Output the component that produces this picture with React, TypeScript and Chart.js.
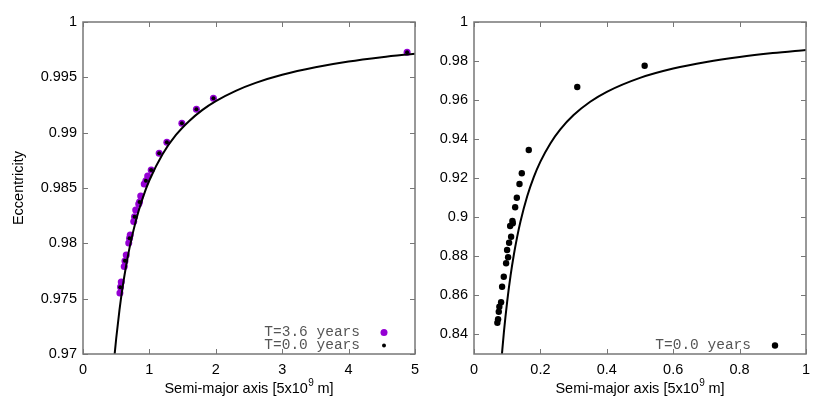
import React, { useEffect, useRef } from "react";
import { Chart, registerables } from "chart.js";
Chart.register(...registerables);

// ---------- data ----------
const LEFT_T36_A = [0.556, 0.565, 0.576, 0.621, 0.632, 0.651, 0.689, 0.701, 0.711, 0.764, 0.776, 0.794, 0.839, 0.851, 0.869, 0.922, 0.947, 0.974, 1.027, 1.147, 1.263, 1.489, 1.708, 1.964, 4.881];
const LEFT_T36_E = [0.97551, 0.97606, 0.97651, 0.97791, 0.9784, 0.97895, 0.98003, 0.98046, 0.98075, 0.98197, 0.98241, 0.98301, 0.98355, 0.98374, 0.98428, 0.98536, 0.98566, 0.98608, 0.98663, 0.98814, 0.98913, 0.99085, 0.99211, 0.99311, 0.99726];
const LEFT_T00_A = [0.561, 0.632, 0.701, 0.776, 0.851, 0.947, 1.027, 1.147, 1.263, 1.489, 1.708, 1.964, 4.881];
const LEFT_T00_E = [0.97603, 0.97843, 0.98046, 0.98241, 0.98374, 0.98566, 0.98663, 0.98814, 0.98913, 0.99085, 0.99211, 0.99311, 0.99726];
const LEFT_CURVE_A = [0.475, 0.5, 0.55, 0.6, 0.65, 0.7, 0.8, 0.9, 1.0, 1.2, 1.4, 1.6, 1.8, 2.0, 2.3, 2.6, 3.0, 3.5, 4.0, 4.5, 5.0];
const LEFT_CURVE_E = [0.96989, 0.9714, 0.974, 0.97617, 0.978, 0.97957, 0.98213, 0.98411, 0.9857, 0.98808, 0.98979, 0.99106, 0.99206, 0.99285, 0.99378, 0.9945, 0.99523, 0.99591, 0.99643, 0.99682, 0.99714];

const RIGHT_T00_A = [0.165, 0.144, 0.137, 0.129, 0.124, 0.1157, 0.1169, 0.1088, 0.1118, 0.1057, 0.0997, 0.1027, 0.0967, 0.0897, 0.0846, 0.0816, 0.0764, 0.0746, 0.0725, 0.0704, 0.311, 0.514];
const RIGHT_T00_E = [0.93446, 0.92253, 0.91705, 0.91004, 0.90512, 0.89811, 0.89693, 0.89555, 0.89007, 0.88699, 0.88326, 0.87952, 0.87645, 0.86959, 0.86447, 0.85648, 0.85422, 0.85167, 0.84777, 0.84603, 0.96672, 0.97762];
const RIGHT_CURVE_A = [0.083, 0.09, 0.1, 0.11, 0.12, 0.13, 0.14, 0.16, 0.18, 0.2, 0.23, 0.26, 0.3, 0.35, 0.4, 0.5, 0.6, 0.7, 0.8, 0.9, 1.0];
const RIGHT_CURVE_E = [0.82771, 0.84111, 0.857, 0.87, 0.88083, 0.89, 0.89786, 0.91063, 0.92056, 0.9285, 0.93783, 0.945, 0.95233, 0.95914, 0.96425, 0.9714, 0.97617, 0.97957, 0.98213, 0.98411, 0.9857];

const LEFT_X_TICKS = [0, 1, 2, 3, 4, 5];
const LEFT_Y_TICKS = [0.97, 0.975, 0.98, 0.985, 0.99, 0.995, 1];
const RIGHT_X_TICKS = [0, 0.2, 0.4, 0.6, 0.8, 1];
const RIGHT_Y_TICKS = [0.84, 0.86, 0.88, 0.9, 0.92, 0.94, 0.96, 0.98, 1];

const LABEL_T36 = "T=3.6 years";
const LABEL_T00 = "T=0.0 years";
const X_TITLE_MAIN = "Semi-major axis [5x10";
const X_TITLE_SUP = "9";
const X_TITLE_END = " m]";
const Y_TITLE = "Eccentricity";

// ---------- styling ----------
const FONT = "'Liberation Sans', Arial, Helvetica, sans-serif";
const MONO = "'Liberation Mono', 'Courier New', monospace";
const PURPLE = "#9400d3";
const FRAME = "#777777";

const zip = (a: number[], e: number[]) => a.map((v, i) => ({ x: v, y: e[i] }));
const fmt = (v: number) => String(Number(Number(v).toFixed(3)));

const gpFrame = {
  id: "gpframe",
  afterDraw(chart: any) {
    const o = chart.options.plugins.gpframe || {};
    const { ctx } = chart;
    const { left, right, top, bottom } = chart.chartArea;
    const xs = chart.scales.x;
    const ys = chart.scales.y;
    ctx.save();
    // ticks on all four sides
    ctx.strokeStyle = FRAME;
    ctx.lineWidth = 1;
    const L = 5;
    ctx.beginPath();
    xs.ticks.forEach((t: any) => {
      const px = Math.round(xs.getPixelForValue(t.value)) + 0.5;
      ctx.moveTo(px, bottom);
      ctx.lineTo(px, bottom - L);
      ctx.moveTo(px, top);
      ctx.lineTo(px, top + L);
    });
    ys.ticks.forEach((t: any) => {
      const py = Math.round(ys.getPixelForValue(t.value)) + 0.5;
      ctx.moveTo(left, py);
      ctx.lineTo(left + L, py);
      ctx.moveTo(right, py);
      ctx.lineTo(right - L, py);
    });
    ctx.stroke();
    // frame
    ctx.lineWidth = 1.5;
    ctx.strokeRect(left, top, right - left, bottom - top);

    // legend
    const entries = chart.data.datasets.filter((d: any) => d.label);
    const n = entries.length;
    entries.forEach((d: any, i: number) => {
      const rowY = bottom - 8.5 - (n - 1 - i) * 13;
      ctx.font = `14.5px ${MONO}`;
      ctx.fillStyle = "#555555";
      ctx.textAlign = "right";
      ctx.textBaseline = "middle";
      ctx.fillText(d.label, right - 55, rowY);
      ctx.beginPath();
      ctx.fillStyle = d.backgroundColor;
      ctx.arc(right - 31, rowY, d.pointRadius, 0, Math.PI * 2);
      ctx.fill();
    });

    // x title with superscript
    ctx.fillStyle = "#000000";
    ctx.textBaseline = "alphabetic";
    ctx.textAlign = "left";
    const mainFont = `14.5px ${FONT}`;
    const supFont = `10px ${FONT}`;
    ctx.font = mainFont;
    const w1 = ctx.measureText(X_TITLE_MAIN).width;
    const w3 = ctx.measureText(X_TITLE_END).width;
    ctx.font = supFont;
    const w2 = ctx.measureText(X_TITLE_SUP).width;
    const total = w1 + w2 + w3;
    const cx = (left + right) / 2;
    let x0 = cx - total / 2;
    const base = 393;
    ctx.font = mainFont;
    ctx.fillText(X_TITLE_MAIN, x0, base);
    ctx.font = supFont;
    ctx.fillText(X_TITLE_SUP, x0 + w1 + 0.5, base - 7);
    ctx.font = mainFont;
    ctx.fillText(X_TITLE_END, x0 + w1 + w2, base);

    if (o.yTitle) {
      ctx.save();
      ctx.translate(19, (top + bottom) / 2);
      ctx.rotate(-Math.PI / 2);
      ctx.textAlign = "center";
      ctx.textBaseline = "middle";
      ctx.font = mainFont;
      ctx.fillText(o.yTitle, 0, 0);
      ctx.restore();
    }
    ctx.restore();
  },
};

function makeConfig(
  datasets: any[],
  xr: [number, number],
  yr: [number, number],
  xt: number[],
  yt: number[],
  yWidth: number,
  padRight: number,
  yTitle: string | null
): any {
  const tickFont = { family: FONT, size: 14.5 };
  return {
    type: "scatter",
    data: { datasets },
    options: {
      animation: false,
      responsive: false,
      maintainAspectRatio: false,
      layout: { padding: { top: 22, right: padRight, left: 0, bottom: 0 } },
      plugins: { legend: { display: false }, tooltip: { enabled: false }, gpframe: { yTitle } },
      scales: {
        x: {
          type: "linear",
          min: xr[0],
          max: xr[1],
          grid: { display: false, drawTicks: false },
          border: { display: false },
          afterBuildTicks: (s: any) => {
            s.ticks = xt.map((v) => ({ value: v }));
          },
          afterFit: (s: any) => {
            s.height = 61;
          },
          ticks: { color: "#000", font: tickFont, padding: 7, maxRotation: 0, autoSkip: false, callback: (v: any) => fmt(v) },
        },
        y: {
          type: "linear",
          min: yr[0],
          max: yr[1],
          grid: { display: false, drawTicks: false },
          border: { display: false },
          afterBuildTicks: (s: any) => {
            s.ticks = yt.map((v) => ({ value: v }));
          },
          afterFit: (s: any) => {
            s.width = yWidth;
          },
          ticks: { color: "#000", font: tickFont, padding: 6, autoSkip: false, callback: (v: any) => fmt(v) },
        },
      },
    },
    plugins: [gpFrame],
  };
}

function Panel({ left, width, config }: { left: number; width: number; config: () => any }) {
  const ref = useRef<HTMLCanvasElement>(null);
  useEffect(() => {
    const c = new Chart(ref.current as HTMLCanvasElement, config());
    return () => c.destroy();
  }, []);
  return (
    <div style={{ position: "absolute", left, top: 0, width, height: 415 }}>
      <canvas ref={ref} width={width} height={415} style={{ display: "block", width, height: 415 }} />
    </div>
  );
}

const leftConfig = () =>
  makeConfig(
    [
      { label: LABEL_T36, data: zip(LEFT_T36_A, LEFT_T36_E), backgroundColor: PURPLE, borderWidth: 0, pointRadius: 3.5, order: 2 },
      { label: LABEL_T00, data: zip(LEFT_T00_A, LEFT_T00_E), backgroundColor: "#000000", borderWidth: 0, pointRadius: 2, order: 0 },
      {
        label: "",
        data: zip(LEFT_CURVE_A, LEFT_CURVE_E),
        showLine: true,
        borderColor: "#000000",
        borderWidth: 2,
        pointRadius: 0,
        cubicInterpolationMode: "monotone",
        order: 1,
      },
    ],
    [0, 5],
    [0.97, 1],
    LEFT_X_TICKS,
    LEFT_Y_TICKS,
    83,
    15,
    Y_TITLE
  );

const rightConfig = () =>
  makeConfig(
    [
      { label: LABEL_T00, data: zip(RIGHT_T00_A, RIGHT_T00_E), backgroundColor: "#000000", borderWidth: 0, pointRadius: 3.2, order: 0 },
      {
        label: "",
        data: zip(RIGHT_CURVE_A, RIGHT_CURVE_E),
        showLine: true,
        borderColor: "#000000",
        borderWidth: 2,
        pointRadius: 0,
        cubicInterpolationMode: "monotone",
        order: 1,
      },
    ],
    [0, 1],
    [0.83, 1],
    RIGHT_X_TICKS,
    RIGHT_Y_TICKS,
    44,
    24,
    null
  );

export default function App() {
  return (
    <div style={{ position: "absolute", left: 0, top: 0, width: 830, height: 415, background: "#ffffff" }}>
      <Panel left={0} width={430} config={leftConfig} />
      <Panel left={430} width={400} config={rightConfig} />
    </div>
  );
}
